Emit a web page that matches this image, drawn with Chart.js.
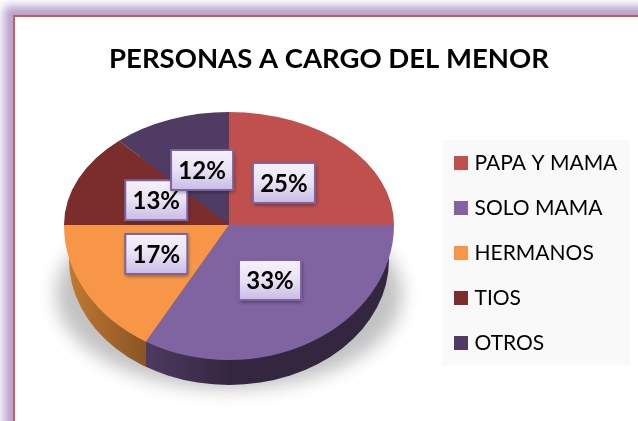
<!DOCTYPE html>
<html><head><meta charset="utf-8">
<script src="https://cdn.jsdelivr.net/npm/chart.js@4"></script>
<style>
html,body{margin:0;padding:0;background:#fff;overflow:hidden;width:638px;height:421px}
#frame{position:absolute;left:13px;top:15px;width:700px;height:500px;box-sizing:border-box;background:#fff;border:2px solid #cb5c5e;box-shadow:0 0 9px 9px #b7a2d0}
canvas{position:absolute;left:0;top:0}
</style></head><body>
<div id="frame"></div>
<canvas id="c" width="638" height="421"></canvas>
<script>
const chartTitle = 'PERSONAS A CARGO DEL MENOR';
const categories = ['PAPA Y MAMA','SOLO MAMA','HERMANOS','TIOS','OTROS'];
const percentages = [25,33.4,16.6,13.4,11.6];
const sliceColors = ['#c0504d','#8064a2','#f79646','#7b2d2b','#503c63'];
const labelReach = [[.471,.526],[.499,.47],[.508,.431],[.483,.536],[.458,.521]];
const FONT = 'Lato, Carlito, sans-serif';
const pie = {cx:229, cy:225, r:165, topRy:113, botRy:135};
const base = {cx:229, cy:260, rx:160, ry:125};
const legendBox = {l:443, t:140, r:630, b:365};

function swatch(color){
  const s=document.createElement('canvas'); s.width=14; s.height=14;
  const g=s.getContext('2d'); g.fillStyle=color; g.fillRect(0,0,14,14); return s;
}

const piePlugin = {
  id:'piePlugin',
  beforeDraw(chart){
    const c=chart.ctx;
    c.save(); c.fillStyle='#f9f9f9';
    c.fillRect(legendBox.l,legendBox.t,legendBox.r-legendBox.l,legendBox.b-legendBox.t);
    c.restore();
  },
  afterLayout(chart){
    const L=chart.legend;
    L.left=434; L.right=638; L.top=128.5; L.bottom=421;
    L.width=L.right-L.left; L.height=L.bottom-L.top;
  },
  beforeDatasetDraw(){ return false; },
  afterDatasetsDraw(chart){
    const c=chart.ctx, arcs=chart.getDatasetMeta(0).data;
    // soft shadow
    c.save();
    c.filter='blur(9px)';
    c.fillStyle='#c2c2c2';
    c.beginPath(); c.ellipse(229,294,173,95,0,0,Math.PI*2); c.fill();
    c.restore();
    // side wall
    const bx=Math.round(pie.cx+pie.r*Math.cos(arcs[1].endAngle));
    const wall=(x0,x1,stops)=>{
      c.save(); c.beginPath(); c.rect(x0,0,x1-x0,421); c.clip();
      const g=c.createLinearGradient(x0,0,x1,0);
      stops.forEach(([p,col])=>g.addColorStop(p,col));
      c.fillStyle=g; c.beginPath(); c.ellipse(base.cx,base.cy,base.rx,base.ry,0,0,Math.PI*2); c.fill();
      c.restore();
    };
    wall(60,bx,[[0,'#c67d34'],[1,'#8a5524']]);
    wall(bx,400,[[0,'#4d3a60'],[.33,'#35263f'],[1,'#35263f']]);
    // top face, two halves with different foreshortening
    const half=(y0,h,k)=>{
      arcs.forEach(a=>{
        c.save(); c.beginPath(); c.rect(0,y0,638,h); c.clip();
        c.translate(pie.cx,pie.cy); c.scale(1,k); c.translate(-a.x,-a.y);
        a.draw(c); c.restore();
      });
    };
    half(pie.cy-200,200.5,pie.topRy/pie.r);
    half(pie.cy,200,pie.botRy/pie.r);
    // data labels
    const w=62,h=40;
    arcs.forEach((a,i)=>{
      const m=(a.startAngle+a.endAngle)/2, [fx,fy]=labelReach[i];
      const s=Math.sin(m), ry=s<0?pie.topRy:pie.botRy;
      const x=pie.cx+pie.r*fx*Math.cos(m), y=pie.cy+ry*fy*s;
      c.save();
      c.shadowColor='rgba(0,0,0,.45)'; c.shadowBlur=4; c.shadowOffsetX=1; c.shadowOffsetY=2;
      const g=c.createLinearGradient(0,y-h/2,0,y+h/2);
      g.addColorStop(0,'#f5f1fb'); g.addColorStop(.5,'#e8e2f3'); g.addColorStop(1,'#c9bbe5');
      c.fillStyle=g; c.fillRect(x-w/2,y-h/2,w,h);
      c.shadowColor='transparent';
      c.strokeStyle='#7f63a1'; c.lineWidth=2; c.strokeRect(x-w/2,y-h/2,w,h);
      c.fillStyle='#000'; c.font='bold 24px '+FONT; c.textAlign='center'; c.textBaseline='middle';
      c.fillText(Math.round(percentages[i])+'%',x,y+1);
      c.restore();
    });
  }
};

new Chart(document.getElementById('c'),{
  type:'pie',
  data:{labels:categories,datasets:[{data:percentages,backgroundColor:sliceColors,borderWidth:0}]},
  options:{
    responsive:false,animation:false,
    radius:pie.r,rotation:0,
    layout:{padding:{left:20,right:0,top:0,bottom:40}},
    plugins:{
      tooltip:{enabled:false},
      title:{display:true,text:chartTitle,color:'#000',font:{family:FONT,size:27.5,weight:'bold'},padding:{top:43,bottom:17}},
      legend:{position:'right',align:'start',
        labels:{color:'#111',font:{family:FONT,size:21},padding:24,usePointStyle:true,pointStyleWidth:6,boxHeight:14,
          generateLabels:ch=>categories.map((t,i)=>({text:t,pointStyle:swatch(sliceColors[i]),fillStyle:sliceColors[i],strokeStyle:sliceColors[i],lineWidth:0,index:i,hidden:false}))}}
    }
  },
  plugins:[piePlugin]
});
</script>
</body></html>
